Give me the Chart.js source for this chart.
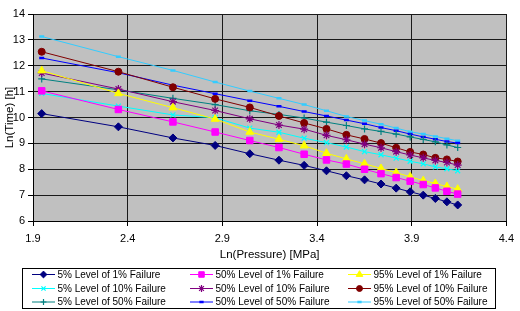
<!DOCTYPE html>
<html><head><meta charset="utf-8">
<script src="https://cdn.jsdelivr.net/npm/chart.js@4/dist/chart.umd.min.js"></script>
<style>html,body{margin:0;padding:0;background:#fff;}#wrap{width:520px;height:311px;position:relative;}</style>
</head><body><div id="wrap"><canvas id="c" width="520" height="311"></canvas></div>
<script>
const lnPressure = [1.946, 2.351, 2.639, 2.862, 3.045, 3.199, 3.332, 3.450, 3.555, 3.651, 3.738, 3.818, 3.892, 3.961, 4.025, 4.086, 4.143];
const lvl5of1   = [10.15, 9.64, 9.21, 8.92, 8.60, 8.35, 8.15, 7.94, 7.75, 7.59, 7.43, 7.27, 7.13, 7.00, 6.87, 6.74, 6.62];
const lvl50of1  = [11.03, 10.31, 9.83, 9.44, 9.11, 8.84, 8.58, 8.36, 8.20, 8.00, 7.83, 7.68, 7.54, 7.41, 7.28, 7.15, 7.04];
const lvl95of1  = [11.81, 10.93, 10.38, 9.94, 9.44, 9.16, 8.91, 8.62, 8.40, 8.21, 8.03, 7.87, 7.71, 7.56, 7.45, 7.33, 7.23];
const lvl5of10  = [10.93, 10.44, 10.10, 9.99, 9.59, 9.43, 9.20, 9.03, 8.86, 8.68, 8.56, 8.43, 8.31, 8.21, 8.09, 8.02, 7.94];
const lvl50of10 = [11.72, 11.10, 10.61, 10.27, 9.95, 9.71, 9.55, 9.31, 9.14, 8.97, 8.83, 8.68, 8.55, 8.44, 8.34, 8.26, 8.16];
const lvl95of10 = [12.54, 11.77, 11.17, 10.72, 10.39, 10.06, 9.79, 9.56, 9.33, 9.17, 9.01, 8.83, 8.67, 8.57, 8.44, 8.38, 8.30];
const lvl5of50  = [11.49, 11.07, 10.74, 10.50, 10.26, 10.12, 9.98, 9.82, 9.69, 9.56, 9.46, 9.36, 9.25, 9.15, 9.06, 8.94, 8.84];
const lvl50of50 = [12.30, 11.73, 11.25, 10.92, 10.65, 10.43, 10.23, 10.06, 9.90, 9.76, 9.61, 9.49, 9.36, 9.25, 9.16, 9.07, 9.01];
const lvl95of50 = [13.13, 12.35, 11.82, 11.37, 11.02, 10.74, 10.50, 10.26, 10.04, 9.88, 9.74, 9.59, 9.45, 9.36, 9.27, 9.18, 9.10];
const seriesLabels = ['5% Level of 1% Failure','50% Level of 1% Failure','95% Level of 1% Failure',
  '5% Level of 10% Failure','50% Level of 10% Failure','95% Level of 10% Failure',
  '5% Level of 50% Failure','50% Level of 50% Failure','95% Level of 50% Failure'];
const xTicks = [1.9, 2.4, 2.9, 3.4, 3.9, 4.4];
const yTicks = [6, 7, 8, 9, 10, 11, 12, 13, 14];
const xTitle = 'Ln(Pressure) [MPa]';
const yTitle = 'Ln(Time) [h]';

const seriesValues = [lvl5of1, lvl50of1, lvl95of1, lvl5of10, lvl50of10, lvl95of10, lvl5of50, lvl50of50, lvl95of50];
const styles = [
  {c:'#000080', ps:'rectRot', r:4, bw:1},
  {c:'#FF00FF', ps:'rect', r:4.6, bw:1},
  {c:'#FFFF00', ps:'triangle', r:4.5, bw:1},
  {c:'#00FFFF', ps:'crossRot', r:3.5, bw:1.2},
  {c:'#800080', ps:'star', r:4, bw:1.2},
  {c:'#800000', ps:'circle', r:3.5, bw:1},
  {c:'#008080', ps:'cross', r:3.5, bw:1.2},
  {c:'#0000FF', ps:'line', r:2.5, bw:2.5},
  {c:'#33CCFF', ps:'line', r:2.5, bw:2.5}
];
const datasets = seriesValues.map((vals, i) => ({
  label: seriesLabels[i],
  data: lnPressure.map((x, j) => ({x: x, y: vals[j]})),
  borderColor: styles[i].c,
  backgroundColor: styles[i].c,
  pointBackgroundColor: styles[i].c,
  pointBorderColor: styles[i].c,
  pointStyle: styles[i].ps,
  pointRadius: styles[i].r,
  pointBorderWidth: styles[i].bw,
  borderWidth: 1,
  tension: 0,
  fill: false
}));

const FONT = '"Liberation Sans", Arial, sans-serif';

const plotBg = {
  id: 'plotBg',
  beforeDraw(chart) {
    const a = chart.chartArea, ctx = chart.ctx;
    ctx.save();
    ctx.fillStyle = '#C0C0C0';
    ctx.fillRect(a.left, a.top, a.right - a.left, a.bottom - a.top);
    ctx.restore();
  }
};

const gridLegend = {
  id: 'gridLegend',
  afterDraw(chart) {
    const ctx = chart.ctx;
    ctx.save();
    ctx.strokeStyle = '#000';
    ctx.lineWidth = 1;
    ctx.strokeRect(22.5, 268.5, 473, 40);
    const colX = [32, 190, 348];
    const rowY = [274.5, 288.5, 302];
    ctx.font = '10px ' + FONT;
    ctx.textBaseline = 'middle';
    ctx.textAlign = 'left';
    chart.data.datasets.forEach((ds, i) => {
      const x0 = colX[i % 3], y = rowY[Math.floor(i / 3)];
      ctx.strokeStyle = ds.borderColor;
      ctx.lineWidth = 1;
      ctx.beginPath(); ctx.moveTo(x0, y); ctx.lineTo(x0 + 23, y); ctx.stroke();
      ctx.fillStyle = ds.pointBackgroundColor;
      ctx.strokeStyle = ds.pointBorderColor;
      ctx.lineWidth = ds.pointBorderWidth;
      if (Chart.helpers && Chart.helpers.drawPoint) {
        Chart.helpers.drawPoint(ctx, {pointStyle: ds.pointStyle, radius: ds.pointRadius * 0.85, borderWidth: ds.pointBorderWidth, rotation: 0}, x0 + 11.5, y);
      }
      ctx.fillStyle = '#000';
      ctx.fillText(ds.label, x0 + 25.5, y + 0.5);
    });
    ctx.restore();
  }
};

new Chart(document.getElementById('c'), {
  type: 'line',
  data: { datasets: datasets },
  plugins: [plotBg, gridLegend],
  options: {
    responsive: false,
    animation: false,
    parsing: true,
    layout: { padding: { top: 14, right: 11, bottom: 46, left: 0 } },
    plugins: { legend: { display: false }, tooltip: { enabled: false } },
    scales: {
      x: {
        type: 'linear', min: 1.9, max: 4.4,
        afterBuildTicks(scale) { scale.ticks = xTicks.map(v => ({value: v})); },
        afterFit(scale) { scale.height = 44; },
        ticks: { color: '#000', font: { family: FONT, size: 11 }, padding: 6, maxRotation: 0,
                 callback: v => v.toFixed(1) },
        grid: { color: '#1a1a1a', lineWidth: 1, tickLength: 5, tickColor: '#000' },
        border: { color: '#000', width: 1 },
        title: { display: true, text: xTitle, color: '#000', font: { family: FONT, size: 11.5 }, padding: { top: 0, bottom: 3 } }
      },
      y: {
        type: 'linear', min: 6, max: 14,
        afterBuildTicks(scale) { scale.ticks = yTicks.map(v => ({value: v})); },
        afterFit(scale) { scale.width = 33; },
        ticks: { color: '#000', font: { family: FONT, size: 11 }, padding: 3,
                 callback: v => String(v) },
        grid: { color: '#1a1a1a', lineWidth: 1, tickLength: 5, tickColor: '#000' },
        border: { color: '#000', width: 1 },
        title: { display: true, text: yTitle, color: '#000', font: { family: FONT, size: 11.5 }, padding: { top: 3, bottom: 0 } }
      }
    }
  }
});
</script></body></html>
